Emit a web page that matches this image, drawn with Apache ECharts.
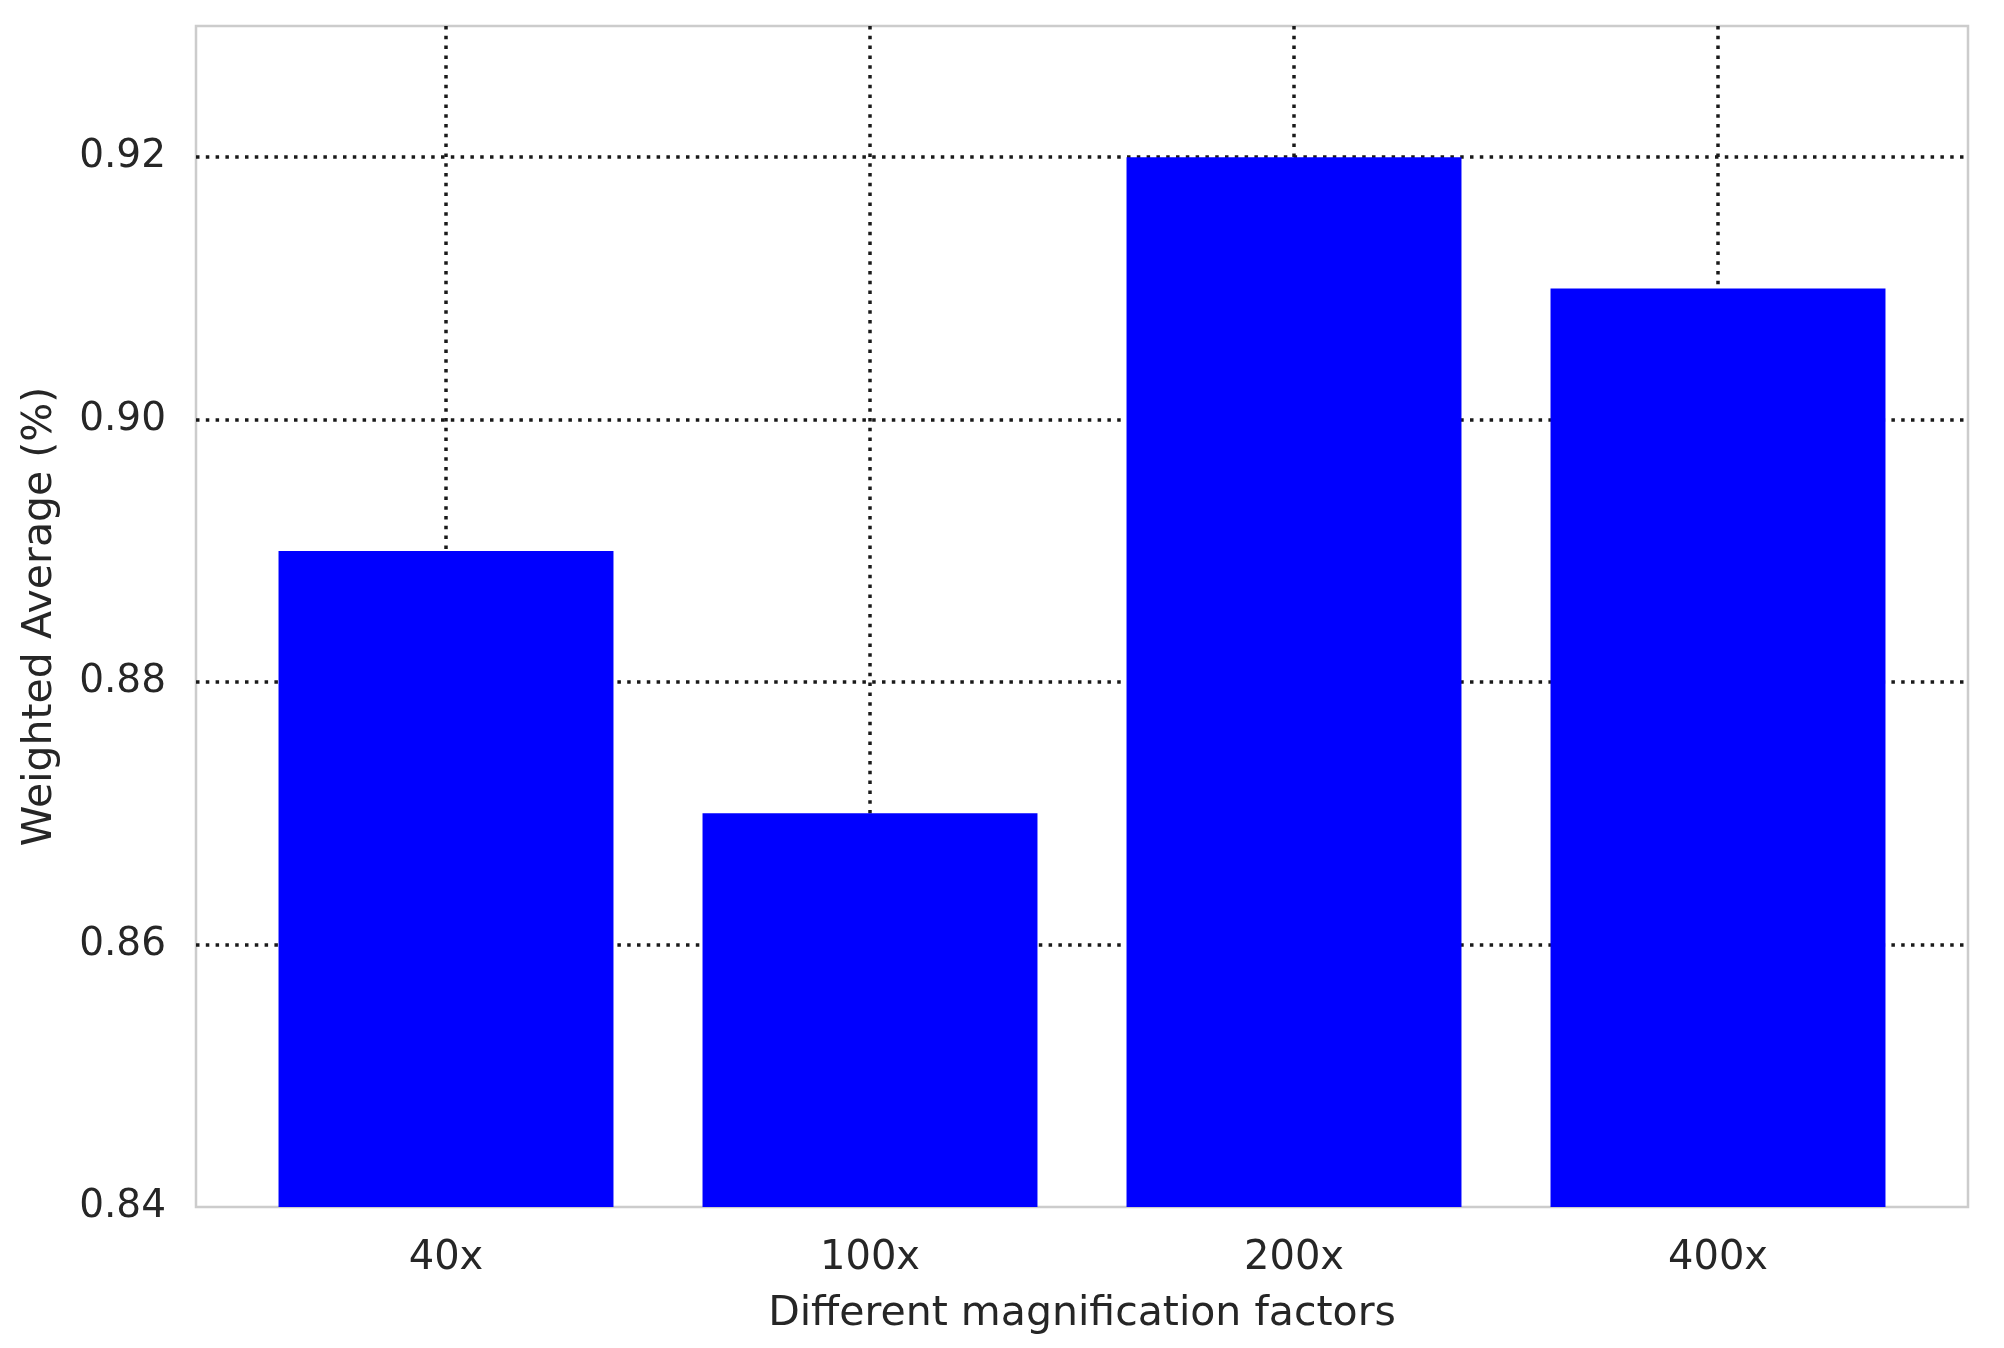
<!DOCTYPE html>
<html>
<head>
<meta charset="utf-8">
<script src="https://cdn.jsdelivr.net/npm/echarts@6/dist/echarts.min.js"></script>
<style>
  html, body { margin: 0; padding: 0; background: #fff; }
  #chart { width: 2004px; height: 1348px; }
</style>
</head>
<body>
<div id="chart"></div>
<script>
// 数据
const categories = ['40x', '100x', '200x', '400x'];
const weightedAvg = [0.89, 0.87, 0.92, 0.91];
const yTicks = [0.84, 0.86, 0.88, 0.90, 0.92];

const textColor = '#262626';
const dotted = { color: '#1a1a1a', width: 3.5, type: [3.5, 6.3] };

const chart = echarts.init(document.getElementById('chart'));

const option = {
    backgroundColor: '#fff',
    animation: false,
    textStyle: { fontFamily: 'DejaVu Sans' },
    grid: [
        // 外框 + 横向网格
        { left: 196, right: 36, top: 26, bottom: 141, show: true,
          borderColor: '#cccccc', borderWidth: 2.5, backgroundColor: '#fff' },
        // 柱子所在区域 (matplotlib 左右留白)
        { left: 234, right: 74, top: 26, bottom: 141 }
    ],
    xAxis: [
        { gridIndex: 0, type: 'value', show: false },
        {
            gridIndex: 1,
            type: 'category',
            data: categories,
            name: 'Different magnification factors',
            nameLocation: 'middle',
            nameGap: 87,
            nameTextStyle: { fontSize: 41, color: textColor },
            axisLine: { show: false },
            axisTick: { show: false },
            axisLabel: { fontSize: 40, color: textColor, margin: 32 },
            splitLine: { show: true, alignWithLabel: true, lineStyle: dotted }
        }
    ],
    yAxis: [
        {
            gridIndex: 0,
            type: 'value',
            min: yTicks[0],
            max: 0.93,
            interval: 0.02,
            name: 'Weighted Average (%)',
            nameLocation: 'middle',
            nameGap: 135,
            nameTextStyle: { fontSize: 41, color: textColor },
            axisLine: { show: false },
            axisTick: { show: false },
            axisLabel: {
                fontSize: 39, color: textColor, margin: 30,
                showMaxLabel: false,
                formatter: v => v.toFixed(2)
            },
            splitLine: { show: true, showMinLine: false, showMaxLine: false, lineStyle: dotted }
        },
        { gridIndex: 1, type: 'value', min: yTicks[0], max: 0.93, show: false }
    ],
    series: [
        {
            type: 'bar',
            xAxisIndex: 1,
            yAxisIndex: 1,
            data: weightedAvg,
            barCategoryGap: '21%',
            itemStyle: { color: '#0000ff' }
        }
    ]
};

chart.setOption(option);

window.addEventListener('resize', function() {
    chart.resize();
});
</script>
</body>
</html>
